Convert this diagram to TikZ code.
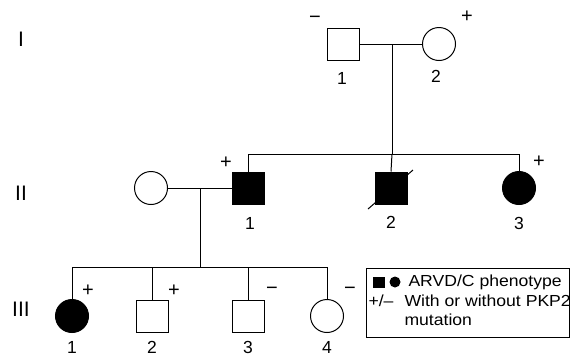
\documentclass[tikz,border=0pt]{standalone}
\usepackage{fontspec}
\setmainfont{Liberation Sans}
\begin{document}
\begin{tikzpicture}[x=1pt,y=-1pt,line width=1pt,
  male/.style={draw,rectangle,minimum size=32pt,inner sep=0pt},
  female/.style={draw,circle,minimum size=33pt,inner sep=0pt},
  aff/.style={fill=black},
  gen/.style={font=\fontsize{21}{22}\selectfont,inner sep=0pt},
  lbl/.style={font=\fontsize{17.5}{19}\selectfont,inner sep=0pt},
  sgn/.style={font=\fontsize{20}{21}\selectfont,inner sep=0pt},
  leg/.style={font=\fontsize{16}{17}\selectfont\addfontfeature{FakeStretch=1.1},inner sep=0pt,anchor=west}]
\useasboundingbox (0,0) rectangle (573,357);
% generation labels
\node[gen] (gI) at (21,39) {I};
\node[gen] (gII) at (21,193) {II};
\node[gen] (gIII) at (21,309) {III};
% generation I
\node[male] (i1) at (343,44) {};
\node[female] (i2) at (439,44) {};
\coordinate (mI) at (392,44);
\coordinate (sII) at (392,154);
\draw (i1.east) -- (i2.west);
\draw (mI) -- (sII);
\node[lbl] (ni1) at (342,78) {1};
\node[lbl] (ni2) at (436,76) {2};
\node[sgn] (si1) at (315,20) {−};
\node[sgn] (si2) at (467,17) {+};
% generation II
\node[female] (sp) at (151,188) {};
\draw (368,209) -- (413,170);
\node[male,aff] (ii1) at (248,188) {};
\node[male,aff] (ii2) at (391,188) {};
\node[female,aff] (ii3) at (519,188) {};
\coordinate (sIIl) at (248,154);
\coordinate (sIIr) at (519,154);
\draw (sIIl) -- (sIIr);
\draw (sIIl) -- (ii1.north);
\draw (sII) -- (ii2.north);
\draw (sIIr) -- (ii3.north);
\draw (sp.east) -- (ii1.west);
\coordinate (mII) at (200,188);
\coordinate (sIII) at (200,267);
\draw (mII) -- (sIII);
\node[lbl] (nii1) at (250,223) {1};
\node[lbl] (nii2) at (391,222) {2};
\node[lbl] (nii3) at (519,223) {3};
\node[sgn] (sii1) at (226,163) {+};
\node[sgn] (sii3) at (539,162) {+};
% generation III
\node[female,aff] (iii1) at (72,316) {};
\node[male] (iii2) at (152,316) {};
\node[male] (iii3) at (248,316) {};
\node[female] (iii4) at (327,316) {};
\coordinate (sIIIl) at (72,267);
\coordinate (sIIIr) at (327,267);
\draw (sIIIl) -- (sIIIr);
\draw (sIIIl) -- (iii1.north);
\draw (iii2.north) -- (iii2.north |- sIII);
\draw (iii3.north) -- (iii3.north |- sIII);
\draw (sIIIr) -- (iii4.north);
\node[lbl] (niii1) at (72,347) {1};
\node[lbl] (niii2) at (152,347) {2};
\node[lbl] (niii3) at (248,347) {3};
\node[lbl] (niii4) at (327,347) {4};
\node[sgn] (siii1) at (88,291) {+};
\node[sgn] (siii2) at (174,291) {+};
\node[sgn] (siii3) at (272,291) {−};
\node[sgn] (siii4) at (350,291) {−};
% legend
\node[draw,rectangle,minimum width=203pt,minimum height=69pt,inner sep=0pt,anchor=north west] (legbox) at (366,268) {};
\node[fill=black,minimum width=12pt,minimum height=11pt,inner sep=0pt] (lsq) at (378.5,282) {};
\node[fill=black,circle,minimum size=11pt,inner sep=0pt] (lci) at (395,282) {};
\node[leg] (l1) at (408,282) {ARVD/C phenotype};
\node[leg] (l2a) at (368,301) {+/–};
\node[leg] (l2) at (404,301) {With or without PKP2};
\node[leg] (l3) at (404,320) {mutation};
\end{tikzpicture}
\end{document}
